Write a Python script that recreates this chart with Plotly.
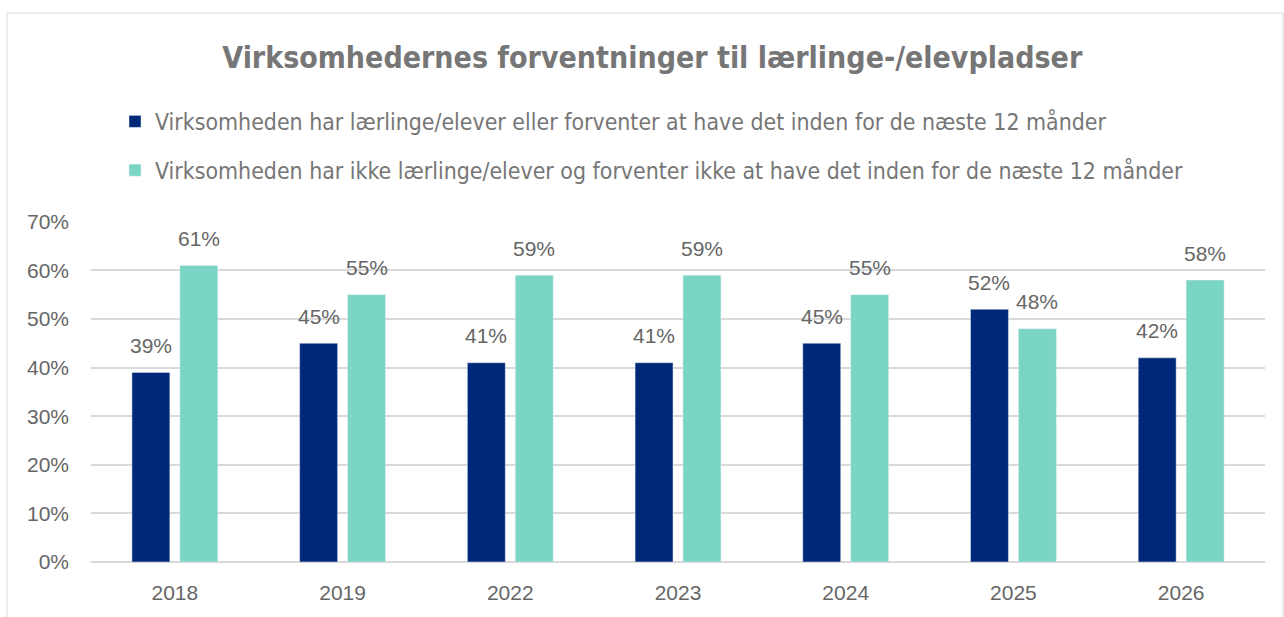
import plotly.graph_objects as go

years = ["2018", "2019", "2022", "2023", "2024", "2025", "2026"]
har = [0.39, 0.45, 0.41, 0.41, 0.45, 0.52, 0.42]
har_ikke = [0.61, 0.55, 0.59, 0.59, 0.55, 0.48, 0.58]
series_names = [
    "Virksomheden har lærlinge/elever eller forventer at have det inden for de næste 12 månder",
    "Virksomheden har ikke lærlinge/elever og forventer ikke at have det inden for de næste 12 månder",
]
y_ticks = [0, 0.1, 0.2, 0.3, 0.4, 0.5, 0.6, 0.7]
y_tick_labels = ["0%", "10%", "20%", "30%", "40%", "50%", "60%", "70%"]

DARK = "#002878"
TEAL = "#7AD5C5"
NARROW = "Liberation Sans Narrow, DejaVu Sans Condensed, Arial Narrow, sans-serif"
ARIAL = "Liberation Sans, Arial, sans-serif"

fig = go.Figure()
fig.add_trace(go.Bar(x=years, y=har, name=series_names[0], marker_color=DARK,
                     legendgroup="a", hoverinfo="skip"))
fig.add_trace(go.Bar(x=years, y=har_ikke, name=series_names[1], marker_color=TEAL,
                     legendgroup="b", hoverinfo="skip"))

annotations = []
for vals, shift in ((har, -24), (har_ikke, 24)):
    for i, v in enumerate(vals):
        annotations.append(dict(
            x=i, y=v, xref="x", yref="y", text=f"{round(v*100)}%",
            showarrow=False, xshift=shift, yshift=27, yanchor="middle",
            font=dict(family=ARIAL, size=21, color="#666666"),
        ))

fig.update_layout(
    width=1284, height=617,
    margin=dict(l=91, r=19, t=221, b=55, autoexpand=False),
    paper_bgcolor="white", plot_bgcolor="white",
    barmode="group", bargap=0.4286, bargroupgap=0.208,
    title=dict(
        text="<b>Virksomhedernes forventninger til lærlinge-/elevpladser</b>",
        x=0.508, xanchor="center", xref="container",
        y=1 - 57 / 617, yanchor="middle", yref="container",
        font=dict(family=NARROW, size=30, color="#767676"),
    ),
    legend=dict(
        orientation="v", x=115 / 1284, xanchor="left", xref="container",
        y=1 - 100 / 617, yanchor="top", yref="container",
        font=dict(family=NARROW, size=22.9, color="#767676"),
        traceorder="grouped", tracegroupgap=16,
        bgcolor="rgba(0,0,0,0)",
    ),
    xaxis=dict(
        type="category", range=[-0.5, 6.5],
        showgrid=False, showline=False, zeroline=False,
        tickfont=dict(family=ARIAL, size=21, color="#666666"),
        ticks="", ticklabelstandoff=16,
    ),
    yaxis=dict(
        range=[0, 0.7015], tickvals=y_ticks, ticktext=y_tick_labels,
        showgrid=True, gridcolor="#D9D9D9", gridwidth=1.5,
        zeroline=True, zerolinecolor="#D9D9D9", zerolinewidth=1.5,
        showline=False, ticks="", ticklabelstandoff=21,
        tickfont=dict(family=ARIAL, size=21, color="#666666"),
    ),
    annotations=annotations,
    shapes=[dict(
        type="rect", xref="paper", yref="paper",
        x0=(7 - 91) / 1174, x1=(1283 - 91) / 1174,
        y0=-0.3, y1=(562 - 13) / 341,
        line=dict(color="#D9D9D9", width=1), fillcolor="rgba(0,0,0,0)",
        layer="below",
    )],
    showlegend=True,
)

fig.write_html("out.html", config={"displayModeBar": False},
               post_script="document.body.style.margin='0';")
